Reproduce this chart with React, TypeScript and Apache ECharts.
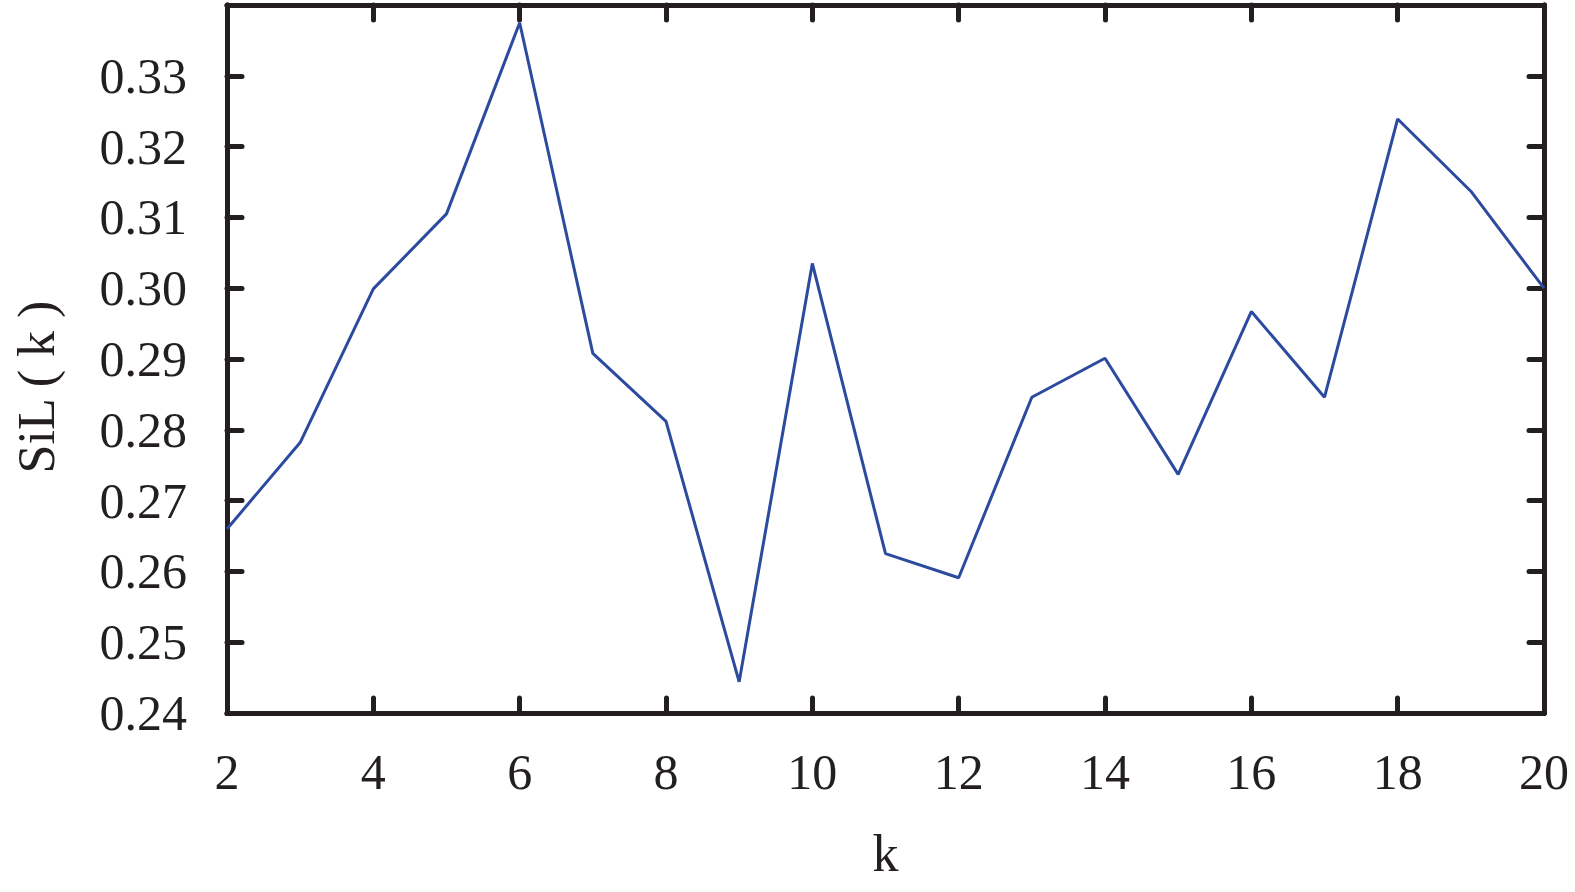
import React, { useEffect, useRef } from "react";
import * as echarts from "echarts";

const kValues = [2, 3, 4, 5, 6, 7, 8, 9, 10, 11, 12, 13, 14, 15, 16, 17, 18, 19, 20];
const silValues = [
  0.2660, 0.2782, 0.2999, 0.3105, 0.3375, 0.2908, 0.2812, 0.2444, 0.3035, 0.2625,
  0.2591, 0.2846, 0.2901, 0.2737, 0.2967, 0.2846, 0.3239, 0.3137, 0.3000,
];
const yMin = 0.24;
const yMax = 0.34;
const yStep = 0.01;
const xMin = 2;
const xMax = 20;
const xStep = 2;
const xName = "k";
const yName = "SiL ( k )";

const FONT = "'Liberation Serif', 'DejaVu Serif', serif";
const INK = "#231f20";

export default function App() {
  const ref = useRef<HTMLDivElement>(null);
  useEffect(() => {
    document.body.style.margin = "0";
    if (!ref.current) return;
    const chart = echarts.init(ref.current, undefined, { renderer: "svg" });
    const axisLine = { show: true, onZero: false, lineStyle: { color: INK, width: 5, cap: "round" } };
    const tick = (show: boolean) => ({
      show,
      inside: true,
      length: 15,
      lineStyle: { color: INK, width: 5, cap: "round" },
    });
    const yLabel = (v: number) => {
      if (Math.abs(v - yMax) < 1e-6) return "";
      return v.toFixed(2);
    };
    const xLabel = (v: number) => String(v);
    chart.setOption({
      animation: false,
      backgroundColor: "#ffffff",
      grid: { left: 227, right: 31, top: 5, bottom: 179, containLabel: false },
      graphic: [
        {
          type: "text",
          x: 36,
          y: 387,
          rotation: Math.PI / 2,
          style: {
            text: yName,
            fontFamily: FONT,
            fontSize: 52,
            fill: INK,
            align: "center",
            verticalAlign: "middle",
          },
        },
      ],
      xAxis: [
        {
          type: "value",
          min: xMin,
          max: xMax,
          interval: xStep,
          position: "bottom",
          name: xName,
          nameLocation: "middle",
          nameGap: 114,
          nameTextStyle: { fontFamily: FONT, fontSize: 52, color: INK },
          axisLine,
          axisTick: tick(true),
          axisLabel: { fontFamily: FONT, fontSize: 50, color: INK, margin: 34, formatter: xLabel },
          splitLine: { show: false },
        },
        {
          type: "value",
          min: xMin,
          max: xMax,
          interval: xStep,
          position: "top",
          axisLine,
          axisTick: tick(true),
          axisLabel: { show: false },
          splitLine: { show: false },
        },
      ],
      yAxis: [
        {
          type: "value",
          min: yMin,
          max: yMax,
          interval: yStep,
          position: "left",
          axisLine,
          axisTick: tick(true),
          axisLabel: { fontFamily: FONT, fontSize: 50, color: INK, margin: 40, formatter: yLabel },
          splitLine: { show: false },
        },
        {
          type: "value",
          min: yMin,
          max: yMax,
          interval: yStep,
          position: "right",
          axisLine,
          axisTick: tick(true),
          axisLabel: { show: false },
          splitLine: { show: false },
        },
      ],
      series: [
        {
          type: "line",
          xAxisIndex: 0,
          yAxisIndex: 0,
          data: kValues.map((k, i) => [k, silValues[i]]),
          showSymbol: false,
          symbol: "none",
          lineStyle: { color: "#2c4b9f", width: 3 },
          clip: false,
        },
      ],
    });
    return () => chart.dispose();
  }, []);
  return <div ref={ref} style={{ width: 1575, height: 892 }} />;
}
